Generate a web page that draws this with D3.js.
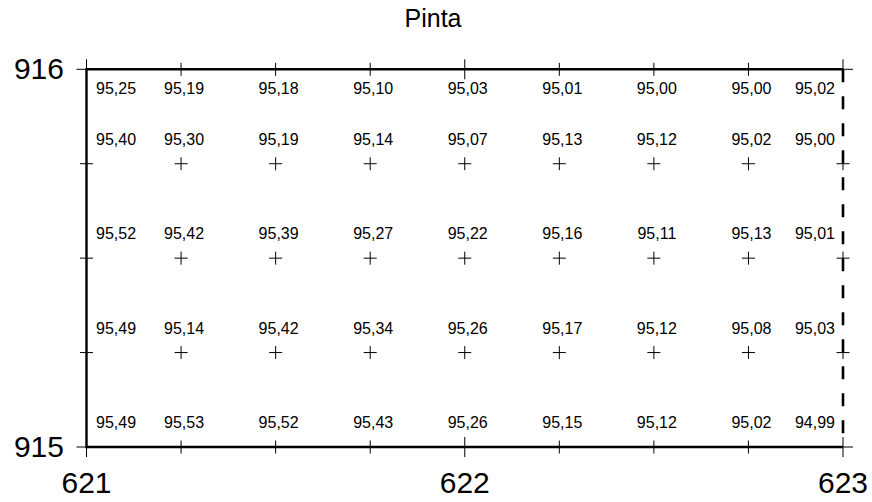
<!DOCTYPE html>
<html>
<head>
<meta charset="utf-8">
<script src="https://cdn.jsdelivr.net/npm/d3@7"></script>
<style>
  html, body { margin: 0; padding: 0; background: #fff; }
  svg { display: block; font-family: "Liberation Sans", Arial, sans-serif; }
</style>
</head>
<body>
<svg id="chart" width="872" height="502"></svg>
<script>
// ---- data ----
const title = "Pinta";
const xGrid = [621, 621.25, 621.5, 621.75, 622, 622.25, 622.5, 622.75, 623];
const yGrid = [916, 915.75, 915.5, 915.25, 915];
const xTickLabels = [621, 622, 623];
const yTickLabels = [915, 916];
const row916    = [95.25, 95.19, 95.18, 95.10, 95.03, 95.01, 95.00, 95.00, 95.02];
const row915_75 = [95.40, 95.30, 95.19, 95.14, 95.07, 95.13, 95.12, 95.02, 95.00];
const row915_5  = [95.52, 95.42, 95.39, 95.27, 95.22, 95.16, 95.11, 95.13, 95.01];
const row915_25 = [95.49, 95.14, 95.42, 95.34, 95.26, 95.17, 95.12, 95.08, 95.03];
const row915    = [95.49, 95.53, 95.52, 95.43, 95.26, 95.15, 95.12, 95.02, 94.99];
const rows = [row916, row915_75, row915_5, row915_25, row915];

// ---- drawing ----
const svg = d3.select("#chart");
const x = d3.scaleLinear().domain([621, 623]).range([86.5, 843]);
const y = d3.scaleLinear().domain([915, 916]).range([447, 69.3]);
const fmt = d3.formatLocale({decimal: ",", thousands: ".", grouping: [3], currency: ["", ""]}).format(".2f");

const xMin = 621, xMax = 623, yMin = 915, yMax = 916;

// crosses / ticks
const pts = [];
yGrid.forEach(yg => xGrid.forEach(xg => pts.push({xg, yg})));
const g = svg.append("g").attr("stroke", "#000").attr("stroke-width", 1);
pts.forEach(p => {
  const yEdge = (p.yg === yMin || p.yg === yMax);
  const xEdge = (p.xg === xMin || p.xg === xMax);
  const vh = (xTickLabels.includes(p.xg) && yEdge) ? 10 : 6.5;
  const hh = (yTickLabels.includes(p.yg) && xEdge) ? 10 : 6.5;
  const cx = x(p.xg), cy = y(p.yg);
  g.append("line").attr("x1", cx).attr("x2", cx).attr("y1", cy - vh).attr("y2", cy + vh);
  g.append("line").attr("x1", cx - hh).attr("x2", cx + hh).attr("y1", cy).attr("y2", cy);
});

// frame
const f = svg.append("g").attr("stroke", "#000").attr("stroke-width", 2.4).attr("fill", "none");
f.append("line").attr("x1", x(xMin)).attr("x2", x(xMax)).attr("y1", y(yMax)).attr("y2", y(yMax));
f.append("line").attr("x1", x(xMin)).attr("x2", x(xMax)).attr("y1", y(yMin)).attr("y2", y(yMin));
f.append("line").attr("x1", x(xMin)).attr("x2", x(xMin)).attr("y1", y(yMax) - 1.2).attr("y2", y(yMin) + 1.2);
f.append("line").attr("x1", x(xMax)).attr("x2", x(xMax)).attr("y1", y(yMax)).attr("y2", y(yMin))
  .attr("stroke-width", 2.6).attr("stroke-dasharray", "13,14");

// value labels
const lab = svg.append("g").attr("font-size", 16).attr("fill", "#000");
rows.forEach((row, ri) => {
  const yg = yGrid[ri];
  const by = (yg === yMax) ? y(yg) + 25 : y(yg) - 19;
  row.forEach((v, ci) => {
    const xg = xGrid[ci];
    let tx = x(xg) + 3, anchor = "middle";
    if (ci === 0) { tx = x(xg) + 9.5; anchor = "start"; }
    if (ci === row.length - 1) { tx = x(xg) - 8; anchor = "end"; }
    lab.append("text").attr("x", tx).attr("y", by).attr("text-anchor", anchor).text(fmt(v));
  });
});

// axis labels
const ax = svg.append("g").attr("font-size", 30).attr("fill", "#000");
xTickLabels.forEach(v => {
  ax.append("text").attr("x", x(v)).attr("y", 493).attr("text-anchor", "middle").text(v);
});
yTickLabels.forEach(v => {
  ax.append("text").attr("x", 64).attr("y", y(v) + 10).attr("text-anchor", "end").text(v);
});

// title
svg.append("text").attr("x", 433).attr("y", 27).attr("text-anchor", "middle")
  .attr("font-size", 25).attr("fill", "#000").text(title);
</script>
</body>
</html>
